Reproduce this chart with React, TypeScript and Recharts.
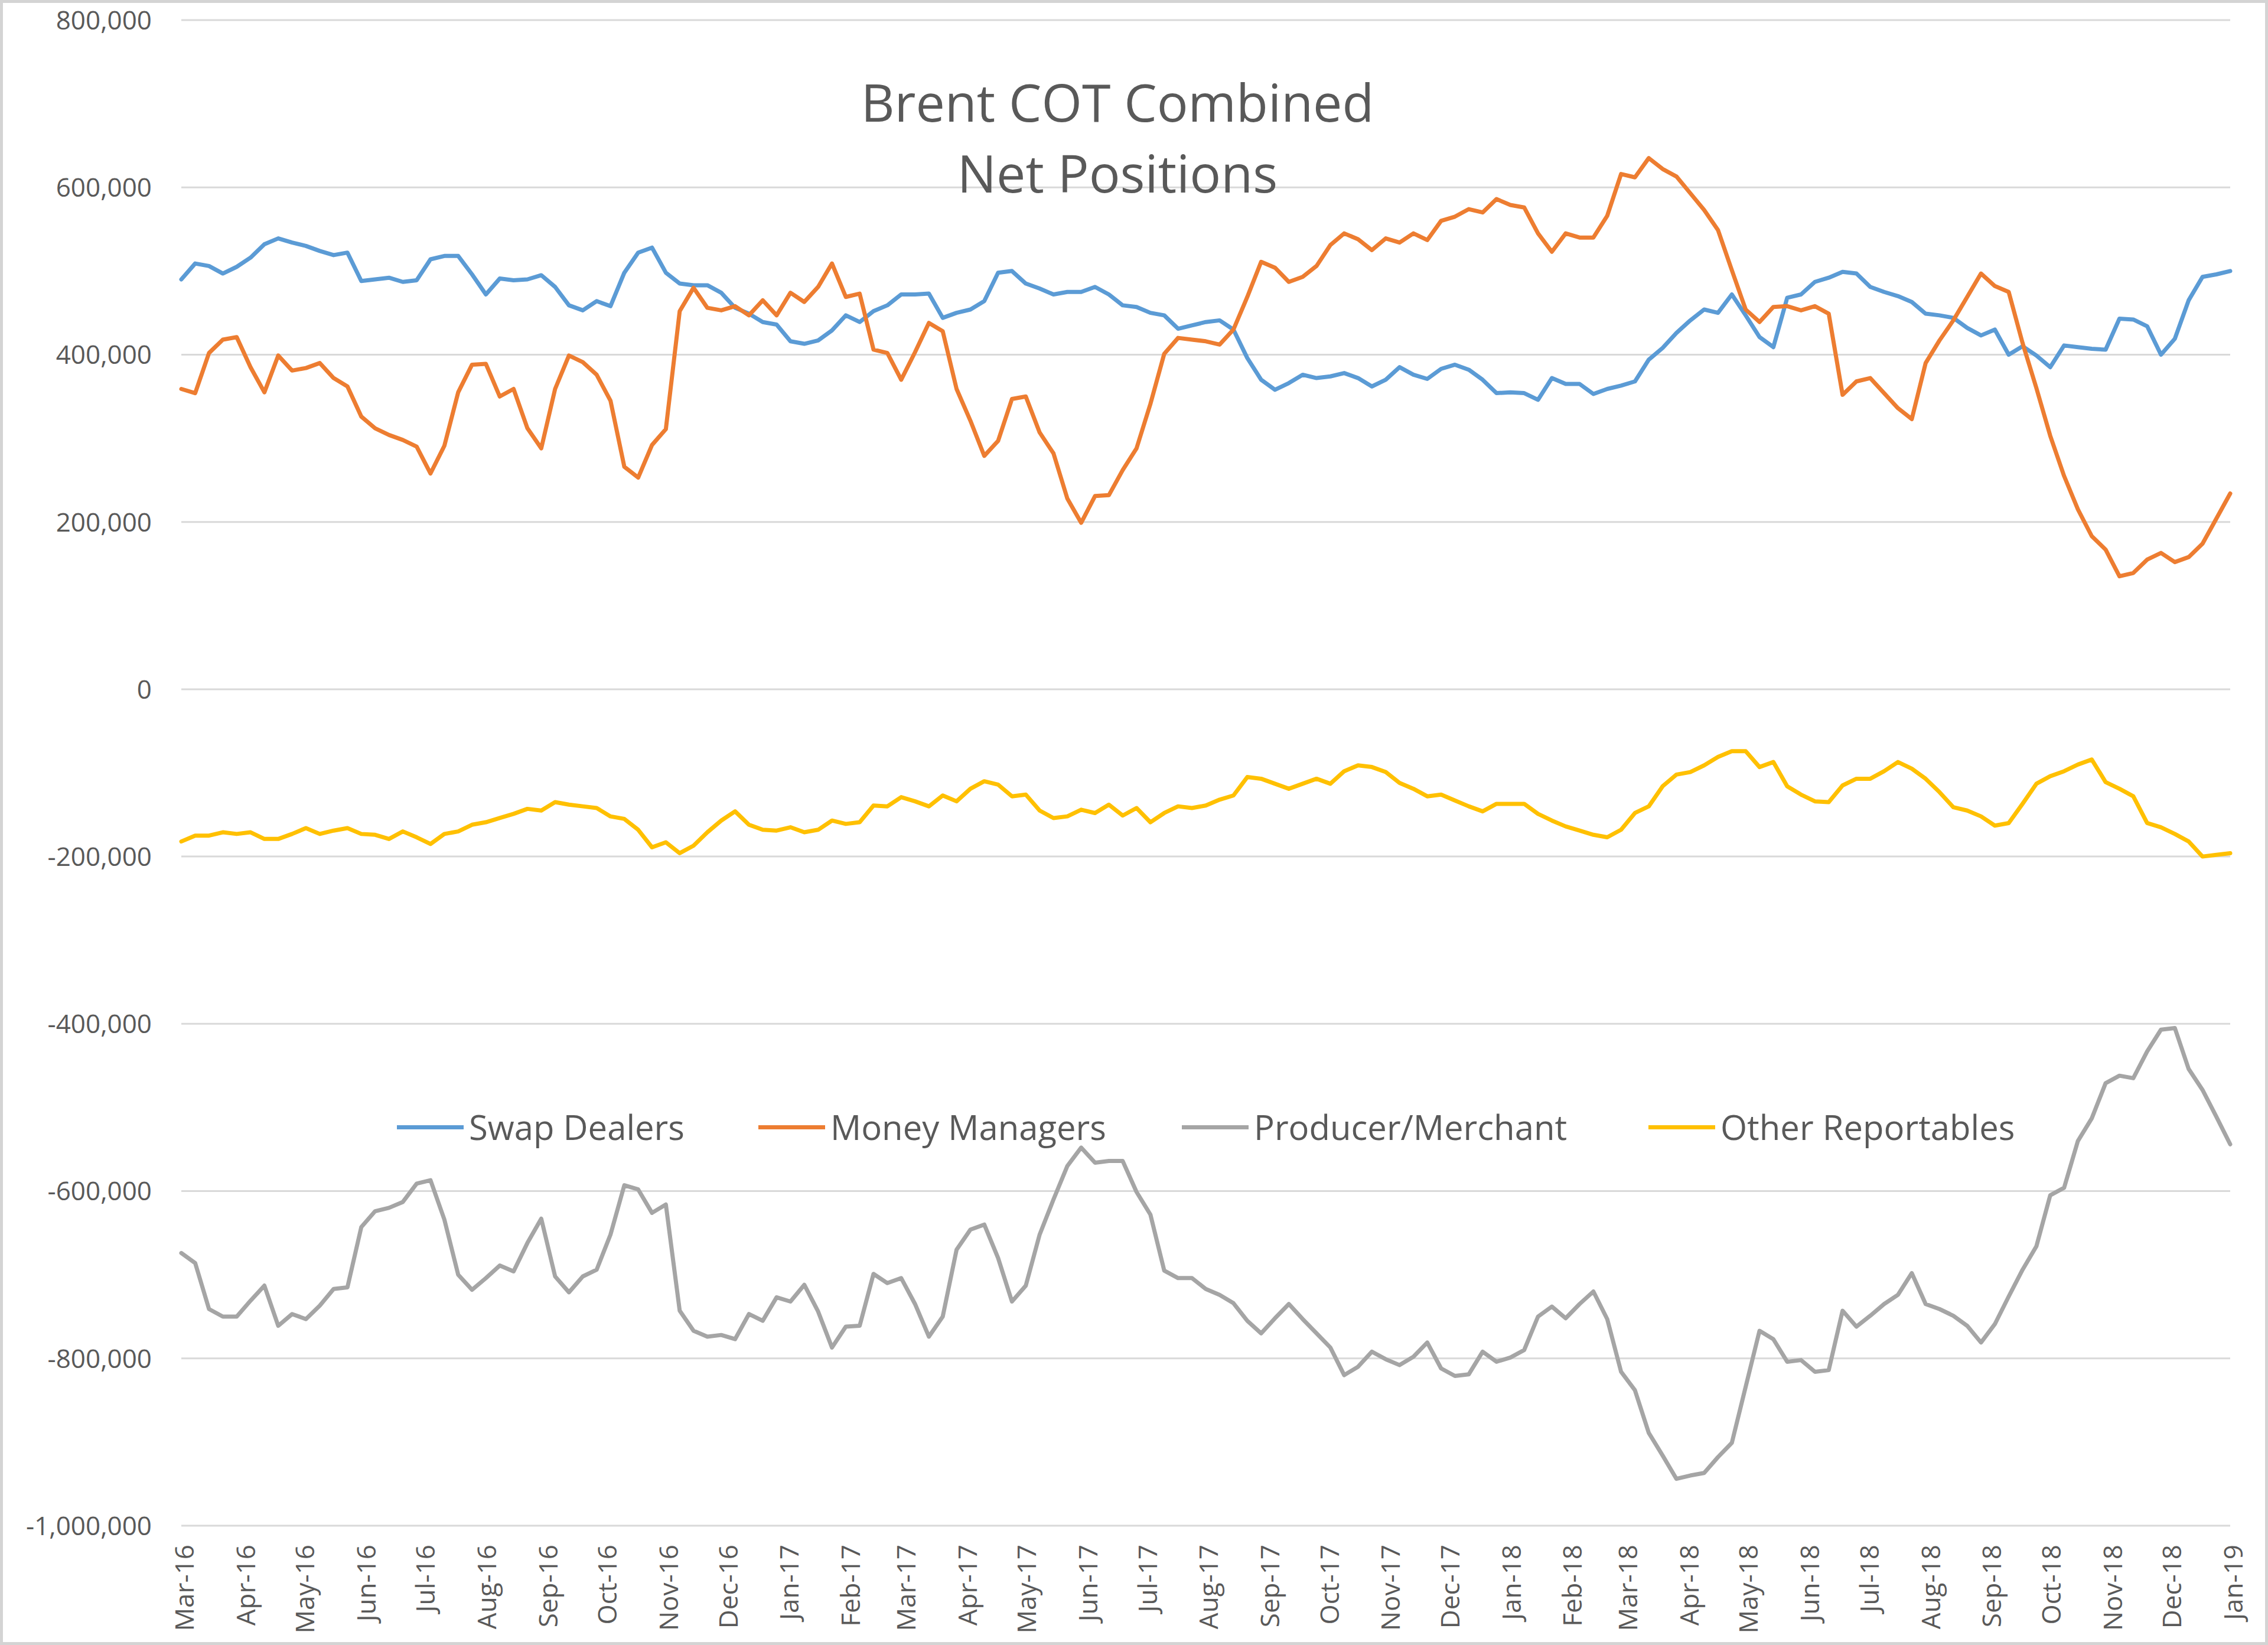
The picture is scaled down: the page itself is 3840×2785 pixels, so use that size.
import { LineChart, Line, XAxis, YAxis, CartesianGrid, Legend } from 'recharts'

// weekly COT reports (Tuesdays), first one on 1 Mar 2016
const firstReport = Date.UTC(2016, 2, 1)
const DAY = 86400000

const monthLabels = [
  'Mar-16', 'Apr-16', 'May-16', 'Jun-16', 'Jul-16', 'Aug-16', 'Sep-16', 'Oct-16', 'Nov-16', 'Dec-16',
  'Jan-17', 'Feb-17', 'Mar-17', 'Apr-17', 'May-17', 'Jun-17', 'Jul-17', 'Aug-17', 'Sep-17', 'Oct-17', 'Nov-17', 'Dec-17',
  'Jan-18', 'Feb-18', 'Mar-18', 'Apr-18', 'May-18', 'Jun-18', 'Jul-18', 'Aug-18', 'Sep-18', 'Oct-18', 'Nov-18', 'Dec-18',
  'Jan-19',
]

const yTicks = [-1000000, -800000, -600000, -400000, -200000, 0, 200000, 400000, 600000, 800000]

const swapDealers = [
  490000, 509000, 506000, 497000, 505000, 516000, 532000, 539000, 534000, 530000,
  524000, 519000, 522000, 488000, 490000, 492000, 487000, 489000, 514000, 518000,
  518000, 496000, 472000, 491000, 489000, 490000, 495000, 481000, 459000, 453000,
  464000, 458000, 498000, 522000, 528000, 498000, 485000, 483000, 483000, 474000,
  456000, 449000, 439000, 436000, 416000, 413000, 417000, 429000, 447000, 439000,
  452000, 459000, 472000, 472000, 473000, 444000, 450000, 454000, 464000, 498000,
  500000, 485000, 479000, 472000, 475000, 475000, 481000, 472000, 459000, 457000,
  450000, 447000, 431000, 435000, 439000, 441000, 430000, 396000, 370000, 358000,
  366000, 376000, 372000, 374000, 378000, 372000, 362000, 370000, 385000, 376000,
  371000, 383000, 388000, 382000, 370000, 354000, 355000, 354000, 346000, 372000,
  365000, 365000, 353000, 359000, 363000, 368000, 394000, 408000, 426000, 441000,
  454000, 450000, 472000, 447000, 421000, 409000, 468000, 472000, 487000, 492000,
  499000, 497000, 481000, 475000, 470000, 463000, 449000, 447000, 444000, 432000,
  423000, 430000, 400000, 410000, 399000, 385000, 411000, 409000, 407000, 406000,
  443000, 442000, 434000, 400000, 419000, 465000, 493000, 496000, 500000,
]

const moneyManagers = [
  359000, 354000, 402000, 418000, 421000, 385000, 355000, 399000, 381000, 384000,
  390000, 372000, 362000, 326000, 312000, 304000, 298000, 290000, 258000, 291000,
  355000, 388000, 389000, 350000, 359000, 312000, 288000, 359000, 399000, 391000,
  376000, 345000, 266000, 253000, 292000, 311000, 452000, 480000, 456000, 453000,
  458000, 447000, 465000, 447000, 474000, 463000, 481000, 509000, 469000, 473000,
  406000, 402000, 370000, 403000, 438000, 428000, 359000, 321000, 279000, 297000,
  347000, 350000, 307000, 282000, 228000, 199000, 231000, 232000, 262000, 288000,
  341000, 401000, 420000, 418000, 416000, 412000, 430000, 469000, 511000, 504000,
  487000, 493000, 506000, 531000, 545000, 538000, 525000, 539000, 534000, 545000,
  537000, 560000, 565000, 574000, 570000, 586000, 579000, 576000, 545000, 523000,
  545000, 540000, 540000, 566000, 616000, 612000, 635000, 622000, 613000, 593000,
  573000, 549000, 501000, 454000, 439000, 457000, 458000, 453000, 458000, 449000,
  352000, 368000, 372000, 354000, 336000, 323000, 390000, 417000, 441000, 469000,
  497000, 482000, 475000, 414000, 360000, 303000, 255000, 215000, 183000, 167000,
  135000, 139000, 155000, 163000, 152000, 158000, 174000, 204000, 234000,
]

const producerMerchant = [
  -674000, -686000, -741000, -750000, -750000, -731000, -713000, -761000, -747000, -753000,
  -737000, -717000, -715000, -643000, -624000, -620000, -613000, -591000, -587000, -634000,
  -700000, -718000, -704000, -689000, -696000, -662000, -633000, -702000, -721000, -702000,
  -694000, -652000, -593000, -598000, -626000, -616000, -743000, -767000, -774000, -772000,
  -777000, -747000, -755000, -727000, -732000, -712000, -744000, -787000, -762000, -761000,
  -699000, -710000, -704000, -735000, -774000, -750000, -670000, -646000, -640000, -680000,
  -732000, -713000, -652000, -610000, -570000, -548000, -566000, -564000, -564000, -601000,
  -628000, -695000, -704000, -704000, -717000, -724000, -734000, -755000, -770000, -752000,
  -735000, -753000, -770000, -787000, -820000, -810000, -792000, -801000, -808000, -798000,
  -781000, -812000, -821000, -819000, -792000, -804000, -799000, -790000, -750000, -738000,
  -752000, -735000, -720000, -753000, -816000, -838000, -889000, -916000, -944000, -940000,
  -937000, -918000, -901000, -834000, -767000, -777000, -804000, -802000, -816000, -814000,
  -743000, -762000, -749000, -735000, -724000, -698000, -735000, -741000, -749000, -761000,
  -781000, -759000, -726000, -694000, -666000, -605000, -596000, -540000, -513000, -471000,
  -462000, -465000, -433000, -407000, -405000, -454000, -479000, -511000, -544000,
]

const otherReportables = [
  -182000, -175000, -175000, -171000, -173000, -171000, -179000, -179000, -173000, -166000,
  -173000, -169000, -166000, -173000, -174000, -179000, -170000, -177000, -185000, -173000,
  -170000, -162000, -159000, -154000, -149000, -143000, -145000, -135000, -138000, -140000,
  -142000, -152000, -155000, -168000, -189000, -183000, -196000, -187000, -171000, -157000,
  -146000, -162000, -168000, -169000, -165000, -171000, -168000, -157000, -161000, -159000,
  -139000, -140000, -129000, -134000, -140000, -127000, -134000, -119000, -110000, -114000,
  -128000, -126000, -145000, -154000, -152000, -144000, -148000, -138000, -151000, -142000,
  -159000, -148000, -140000, -142000, -139000, -132000, -127000, -105000, -107000, -113000,
  -119000, -113000, -107000, -113000, -98000, -91000, -93000, -99000, -112000, -119000,
  -128000, -126000, -133000, -140000, -146000, -137000, -137000, -137000, -149000, -157000,
  -164000, -169000, -174000, -177000, -168000, -148000, -140000, -116000, -102000, -99000,
  -91000, -81000, -74000, -74000, -93000, -87000, -116000, -126000, -134000, -135000,
  -115000, -107000, -107000, -98000, -87000, -95000, -107000, -123000, -141000, -145000,
  -152000, -163000, -160000, -137000, -113000, -104000, -98000, -90000, -84000, -111000,
  -119000, -128000, -160000, -165000, -173000, -182000, -200000, -198000, -196000,
]

const series = [
  { name: 'Swap Dealers', values: swapDealers, color: '#5B9BD5' },
  { name: 'Money Managers', values: moneyManagers, color: '#ED7D31' },
  { name: 'Producer/Merchant', values: producerMerchant, color: '#A5A5A5' },
  { name: 'Other Reportables', values: otherReportables, color: '#FFC000' },
]

const monthIndex: Record<string, number> = {
  Jan: 0, Feb: 1, Mar: 2, Apr: 3, May: 4, Jun: 5, Jul: 6, Aug: 7, Sep: 8, Oct: 9, Nov: 10, Dec: 11,
}
const monthTicks = monthLabels.map((l) => {
  const [m, y] = l.split('-')
  return Date.UTC(2000 + Number(y), monthIndex[m], 1)
})

const data = swapDealers.map((_, i) => {
  const row: Record<string, number> = { date: firstReport + i * 7 * DAY }
  series.forEach((s) => { row[s.name] = s.values[i] })
  return row
})

const W = 3840
const H = 2785
const PLOT_LEFT = 307
const PLOT_RIGHT = 3776
const PLOT_TOP = 34
const PLOT_BOTTOM = 2583
const TEXT = '#595959'
const FONT = '"Open Sans", "DejaVu Sans", sans-serif'

const legendLeft = [672, 1284, 2001, 2791]

const XTick = (props: any) => {
  const { x, payload } = props
  const label = monthLabels[monthTicks.indexOf(payload.value)]
  const ax = x + 5
  const ay = PLOT_BOTTOM + 32
  return (
    <text x={ax} y={ay} transform={`rotate(-90, ${ax}, ${ay})`} textAnchor="end" dy="0.36em"
      fontSize={44} fill={TEXT} fontFamily={FONT}>
      {label}
    </text>
  )
}

const YTick = (props: any) => {
  const { y, payload } = props
  return (
    <text x={PLOT_LEFT - 50} y={y} dy="0.36em" textAnchor="end" fontSize={44} fill={TEXT} fontFamily={FONT}>
      {Number(payload.value).toLocaleString('en-US')}
    </text>
  )
}

const renderLegend = (props: any) => {
  const payload = props.payload || []
  return (
    <div style={{ position: 'relative', width: W, height: 80 }}>
      {series.map((s, i) => {
        const item = payload.find((p: any) => p.value === s.name)
        return (
          <div key={s.name} style={{ position: 'absolute', left: legendLeft[i], top: 0, height: 80, display: 'flex', alignItems: 'center' }}>
            <div style={{ width: 113, height: 7, background: item ? item.color : s.color }} />
            <span style={{ marginLeft: 9, fontFamily: FONT, fontSize: 58, color: TEXT, lineHeight: '80px', whiteSpace: 'nowrap' }}>
              {s.name}
            </span>
          </div>
        )
      })}
    </div>
  )
}

export default function App() {
  return (
    <div style={{ position: 'absolute', left: 0, top: 0, width: W, height: H, background: '#fff' }}>
      <LineChart width={W} height={H} data={data}
        margin={{ top: PLOT_TOP, right: W - PLOT_RIGHT, bottom: 0, left: 0 }}>
        <CartesianGrid vertical={false} stroke="#D9D9D9" strokeWidth={3} />
        <XAxis dataKey="date" type="number" scale="linear"
          domain={[monthTicks[0], monthTicks[monthTicks.length - 1]]}
          ticks={monthTicks} interval={0} height={H - PLOT_BOTTOM}
          axisLine={false} tickLine={false} tick={<XTick />} />
        <YAxis type="number" domain={[yTicks[0], yTicks[yTicks.length - 1]]} ticks={yTicks} interval={0}
          width={PLOT_LEFT} axisLine={false} tickLine={false} tick={<YTick />} />
        <Legend verticalAlign="middle" align="center" layout="horizontal" content={renderLegend}
          wrapperStyle={{ left: 0, top: 1868, width: W, height: 80 }} />
        {series.map((s) => (
          <Line key={s.name} type="linear" dataKey={s.name} stroke={s.color} strokeWidth={7}
            strokeLinejoin="round" strokeLinecap="round" dot={false} activeDot={false}
            isAnimationActive={false} />
        ))}
      </LineChart>
      <div style={{ position: 'absolute', left: 0, top: 112, width: 3784, textAlign: 'center',
        fontFamily: FONT, fontSize: 88, lineHeight: '120px', color: TEXT, pointerEvents: 'none' }}>
        <div>Brent COT Combined</div>
        <div>Net Positions</div>
      </div>
      <div style={{ position: 'absolute', inset: 0, border: '5px solid #D4D4D4', pointerEvents: 'none' }} />
    </div>
  )
}
